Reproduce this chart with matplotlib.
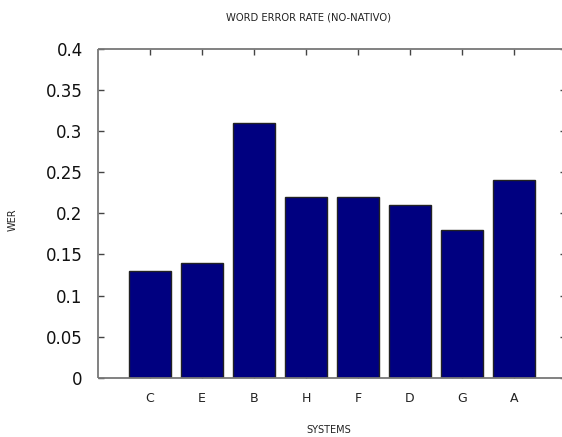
import matplotlib
matplotlib.use("Agg")
import matplotlib.pyplot as plt
import numpy as np

systems = ["C", "E", "B", "H", "F", "D", "G", "A"]
wer = [0.13, 0.14, 0.31, 0.22, 0.22, 0.21, 0.18, 0.24]
yticks = [0, 0.05, 0.1, 0.15, 0.2, 0.25, 0.3, 0.35, 0.4]
ytick_labels = ["0", "0.05", "0.1", "0.15", "0.2", "0.25", "0.3", "0.35", "0.4"]

W, H = 562, 437
fig = plt.figure(figsize=(W / 100, H / 100), dpi=100)
left, right, top, bottom = 98, 566, 48.5, 378
ax = fig.add_axes([left / W, 1 - bottom / H, (right - left) / W, (bottom - top) / H])

x = np.arange(1, len(systems) + 1)
ax.bar(x, wer, width=0.81, color="#000080", edgecolor="#222222", linewidth=1.0, zorder=2)
ax.set_xlim(0, 9)
ax.set_ylim(0, 0.4)
ax.set_xticks(x)
ax.set_xticklabels(systems, fontsize=9, color="#222222")
ax.set_yticks(yticks)
ax.set_yticklabels(ytick_labels, fontsize=12, color="#111111")
ax.tick_params(axis="both", direction="in", length=4, width=1, color="#444444",
               top=True, right=True)
ax.tick_params(axis="y", pad=11)
ax.tick_params(axis="x", pad=10)
for name, s in ax.spines.items():
    s.set_color("#777777")
    s.set_linewidth(1.3)
    s.set_capstyle("butt")
ax.spines["right"].set_visible(False)

fig.text(308 / W, 1 - 17 / H, "WORD ERROR RATE (NO-NATIVO)", ha="center", va="center",
         fontsize=7.2, color="#222222")
fig.text(329 / W, 1 - 430 / H, "SYSTEMS", ha="center", va="center", fontsize=7, color="#222222")
fig.text(13 / W, 1 - 220 / H, "WER", ha="center", va="center", rotation=90, fontsize=7,
         color="#222222")

fig.savefig("out.png", dpi=100)
